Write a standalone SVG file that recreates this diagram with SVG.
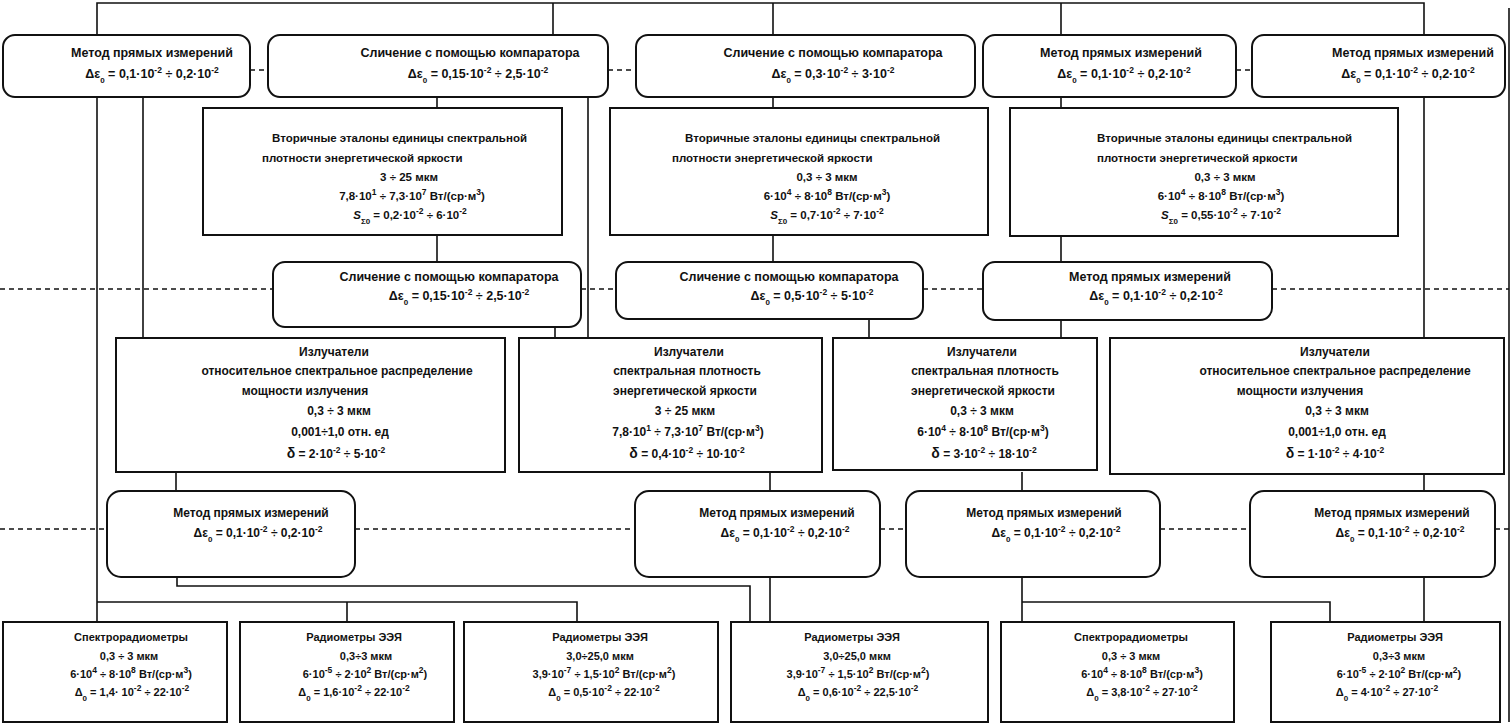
<svg xmlns="http://www.w3.org/2000/svg" width="1512" height="727" viewBox="0 0 1512 727">
<style>
.box{fill:#fff;stroke:#111;stroke-width:2}
.ln{fill:none;stroke:#111;stroke-width:1.6}
.dash{fill:none;stroke:#111;stroke-width:1.3;stroke-dasharray:5 4}
text{font-family:"Liberation Sans",Arial,sans-serif;font-weight:bold;fill:#111;text-anchor:middle}
.f1{font-size:12.5px}
.f2{font-size:11.5px}
.f4{font-size:12px}
.f6{font-size:11px}
.st{text-anchor:start}
.s{font-size:8.5px;baseline-shift:super}
.b{font-size:8px;baseline-shift:sub}
.d{font-size:14px}
.i{font-style:italic}
</style>
<rect width="1512" height="727" fill="#fff"/>
<g id="connectors">
<path class="ln" d="M97,35 V3 H1424 V35 M553,3 V35 M773,3 V35 M1061,3 V35"/>
<path class="ln" d="M97,97 V622 M97,602 H577 V622 M347,602 V622"/>
<path class="ln" d="M143,97 V338"/>
<path class="ln" d="M437,97 V108 M437,235 V262"/>
<path class="ln" d="M588,97 V338 M555,327 V338"/>
<path class="ln" d="M773,97 V108 M773,235 V262 M869,319 V338"/>
<path class="ln" d="M1061,97 V108 M1061,235 V262 M1061,320 V338"/>
<path class="ln" d="M1424,97 V338 M1424,472 V491 M1424,577 V622"/>
<path class="ln" d="M176,472 V491 M177,577 V586 H750 V622"/>
<path class="ln" d="M770,472 V491 M770,577 V622"/>
<path class="ln" d="M1022,472 V491 M1022,577 V622 M1022,602 H1330 V622"/>
<path class="ln" d="M1509,8 V722"/>
<path class="dash" d="M250,70 H268 M608,70 H636 M1236,70 H1252"/>
<path class="dash" d="M0,289 H273 M581,289 H616 M923,289 H983 M1272,289 H1509"/>
<path class="dash" d="M0,529 H107 M355,529 H635 M880,529 H906 M1160,529 H1250 M1495,529 H1509"/>
</g>

<g id="nodeA">
<rect class="box" x="3" y="35" width="247" height="62" rx="12"/>
<text class="f1" x="152" y="57">Метод прямых измерений</text>
<text class="f1" x="152" y="78">Δε<tspan class="b">0</tspan> = 0,1·10<tspan class="s">-2</tspan> ÷ 0,2·10<tspan class="s">-2</tspan></text>
</g>
<g id="nodeB">
<rect class="box" x="268" y="35" width="340" height="62" rx="12"/>
<text class="f1" x="470" y="57">Сличение с помощью компаратора</text>
<text class="f1" x="478" y="78">Δε<tspan class="b">0</tspan> = 0,15·10<tspan class="s">-2</tspan> ÷ 2,5·10<tspan class="s">-2</tspan></text>
</g>
<g id="nodeC">
<rect class="box" x="636" y="35" width="339" height="62" rx="12"/>
<text class="f1" x="833" y="57">Сличение с помощью компаратора</text>
<text class="f1" x="833" y="78">Δε<tspan class="b">0</tspan> = 0,3·10<tspan class="s">-2</tspan> ÷ 3·10<tspan class="s">-2</tspan></text>
</g>
<g id="nodeD">
<rect class="box" x="983" y="35" width="253" height="62" rx="12"/>
<text class="f1" x="1121" y="57">Метод прямых измерений</text>
<text class="f1" x="1124" y="78">Δε<tspan class="b">0</tspan> = 0,1·10<tspan class="s">-2</tspan> ÷ 0,2·10<tspan class="s">-2</tspan></text>
</g>
<g id="nodeE">
<rect class="box" x="1252" y="35" width="253" height="62" rx="12"/>
<text class="f1" x="1413" y="57">Метод прямых измерений</text>
<text class="f1" x="1408" y="78">Δε<tspan class="b">0</tspan> = 0,1·10<tspan class="s">-2</tspan> ÷ 0,2·10<tspan class="s">-2</tspan></text>
</g>

<g id="nodeV1">
<rect class="box" x="203" y="108" width="359" height="127"/>
<text class="f2 st" x="272" y="142">Вторичные эталоны единицы спектральной</text>
<text class="f2 st" x="262" y="162">плотности энергетической яркости</text>
<text class="f2" x="409" y="181">3 ÷ 25 мкм</text>
<text class="f2" x="412" y="200">7,8·10<tspan class="s">1</tspan> ÷ 7,3·10<tspan class="s">7</tspan>  Вт/(ср·м<tspan class="s">3</tspan>)</text>
<text class="f2" x="410" y="219"><tspan class="i">S</tspan><tspan class="b">Σ0</tspan> = 0,2·10<tspan class="s">-2</tspan> ÷ 6·10<tspan class="s">-2</tspan></text>
</g>
<g id="nodeV2">
<rect class="box" x="610" y="108" width="378" height="127"/>
<text class="f2 st" x="685" y="142">Вторичные эталоны единицы спектральной</text>
<text class="f2 st" x="672" y="162">плотности энергетической яркости</text>
<text class="f2" x="827" y="181">0,3 ÷ 3 мкм</text>
<text class="f2" x="827" y="200">6·10<tspan class="s">4</tspan> ÷ 8·10<tspan class="s">8</tspan> Вт/(ср·м<tspan class="s">3</tspan>)</text>
<text class="f2" x="827" y="219"><tspan class="i">S</tspan><tspan class="b">Σ0</tspan> = 0,7·10<tspan class="s">-2</tspan> ÷ 7·10<tspan class="s">-2</tspan></text>
</g>
<g id="nodeV3">
<rect class="box" x="1010" y="108" width="388" height="128"/>
<text class="f2 st" x="1097" y="142">Вторичные эталоны единицы спектральной</text>
<text class="f2 st" x="1097" y="162">плотности энергетической яркости</text>
<text class="f2" x="1225" y="181">0,3 ÷ 3 мкм</text>
<text class="f2" x="1221" y="200">6·10<tspan class="s">4</tspan> ÷ 8·10<tspan class="s">8</tspan>  Вт/(ср·м<tspan class="s">3</tspan>)</text>
<text class="f2" x="1221" y="219"><tspan class="i">S</tspan><tspan class="b">Σ0</tspan> = 0,55·10<tspan class="s">-2</tspan> ÷ 7·10<tspan class="s">-2</tspan></text>
</g>

<g id="nodeS1">
<rect class="box" x="273" y="262" width="308" height="65" rx="12"/>
<text class="f1" x="449" y="281">Сличение с помощью компаратора</text>
<text class="f1" x="459" y="300">Δε<tspan class="b">0</tspan> = 0,15·10<tspan class="s">-2</tspan> ÷ 2,5·10<tspan class="s">-2</tspan></text>
</g>
<g id="nodeS2">
<rect class="box" x="616" y="262" width="307" height="57" rx="12"/>
<text class="f1" x="789" y="281">Сличение с помощью компаратора</text>
<text class="f1" x="812" y="300">Δε<tspan class="b">0</tspan> = 0,5·10<tspan class="s">-2</tspan> ÷ 5·10<tspan class="s">-2</tspan></text>
</g>
<g id="nodeM3">
<rect class="box" x="983" y="262" width="289" height="58" rx="12"/>
<text class="f1" x="1150" y="281">Метод прямых измерений</text>
<text class="f1" x="1156" y="300">Δε<tspan class="b">0</tspan> = 0,1·10<tspan class="s">-2</tspan> ÷ 0,2·10<tspan class="s">-2</tspan></text>
</g>

<g id="nodeI1">
<rect class="box" x="116" y="338" width="389" height="134"/>
<text class="f4" x="334" y="356">Излучатели</text>
<text class="f4" x="337" y="375">относительное спектральное распределение</text>
<text class="f4" x="305" y="395">мощности излучения</text>
<text class="f4" x="339" y="415">0,3 ÷ 3 мкм</text>
<text class="f4" x="340" y="436">0,001÷1,0 отн. ед</text>
<text class="f4" x="336" y="458"><tspan class="d">δ</tspan> = 2·10<tspan class="s">-2</tspan> ÷ 5·10<tspan class="s">-2</tspan></text>
</g>
<g id="nodeI2">
<rect class="box" x="519" y="338" width="303" height="134"/>
<text class="f4" x="689" y="356">Излучатели</text>
<text class="f4" x="687" y="375">спектральная  плотность</text>
<text class="f4" x="685" y="395">энергетической яркости</text>
<text class="f4" x="685" y="415">3 ÷ 25 мкм</text>
<text class="f4" x="688" y="436">7,8·10<tspan class="s">1</tspan> ÷ 7,3·10<tspan class="s">7</tspan>  Вт/(ср·м<tspan class="s">3</tspan>)</text>
<text class="f4" x="687" y="458"><tspan class="d">δ</tspan> = 0,4·10<tspan class="s">-2</tspan> ÷ 10·10<tspan class="s">-2</tspan></text>
</g>
<g id="nodeI3">
<rect class="box" x="833" y="338" width="264" height="132"/>
<text class="f4" x="982" y="356">Излучатели</text>
<text class="f4" x="985" y="375">спектральная  плотность</text>
<text class="f4" x="983" y="395">энергетической яркости</text>
<text class="f4" x="982" y="415">0,3 ÷ 3 мкм</text>
<text class="f4" x="983" y="436">6·10<tspan class="s">4</tspan> ÷ 8·10<tspan class="s">8</tspan>  Вт/(ср·м<tspan class="s">3</tspan>)</text>
<text class="f4" x="984" y="458"><tspan class="d">δ</tspan> = 3·10<tspan class="s">-2</tspan> ÷ 18·10<tspan class="s">-2</tspan></text>
</g>
<g id="nodeI4">
<rect class="box" x="1110" y="338" width="394" height="136"/>
<text class="f4" x="1335" y="356">Излучатели</text>
<text class="f4" x="1335" y="375">относительное спектральное распределение</text>
<text class="f4" x="1300" y="395">мощности излучения</text>
<text class="f4" x="1337" y="415">0,3 ÷ 3 мкм</text>
<text class="f4" x="1337" y="436">0,001÷1,0 отн. ед</text>
<text class="f4" x="1335" y="458"><tspan class="d">δ</tspan> = 1·10<tspan class="s">-2</tspan> ÷ 4·10<tspan class="s">-2</tspan></text>
</g>

<g id="nodeM5a">
<rect class="box" x="107" y="491" width="248" height="86" rx="14"/>
<text class="f4" x="251" y="517">Метод прямых измерений</text>
<text class="f4" x="258" y="537">Δε<tspan class="b">0</tspan> = 0,1·10<tspan class="s">-2</tspan> ÷ 0,2·10<tspan class="s">-2</tspan></text>
</g>
<g id="nodeM5b">
<rect class="box" x="635" y="491" width="245" height="86" rx="14"/>
<text class="f4" x="777" y="517">Метод прямых измерений</text>
<text class="f4" x="785" y="537">Δε<tspan class="b">0</tspan> = 0,1·10<tspan class="s">-2</tspan> ÷ 0,2·10<tspan class="s">-2</tspan></text>
</g>
<g id="nodeM5c">
<rect class="box" x="906" y="491" width="254" height="86" rx="14"/>
<text class="f4" x="1044" y="517">Метод прямых измерений</text>
<text class="f4" x="1056" y="537">Δε<tspan class="b">0</tspan> = 0,1·10<tspan class="s">-2</tspan> ÷ 0,2·10<tspan class="s">-2</tspan></text>
</g>
<g id="nodeM5d">
<rect class="box" x="1250" y="491" width="245" height="86" rx="14"/>
<text class="f4" x="1392" y="517">Метод прямых измерений</text>
<text class="f4" x="1400" y="537">Δε<tspan class="b">0</tspan> = 0,1·10<tspan class="s">-2</tspan> ÷ 0,2·10<tspan class="s">-2</tspan></text>
</g>

<g id="nodeR1">
<rect class="box" x="3" y="622" width="224" height="100"/>
<text class="f6" x="131" y="641">Спектрорадиометры</text>
<text class="f6" x="129" y="660">0,3 ÷ 3 мкм</text>
<text class="f6" x="131" y="678">6·10<tspan class="s">4</tspan> ÷ 8·10<tspan class="s">8</tspan>  Вт/(ср·м<tspan class="s">3</tspan>)</text>
<text class="f6" x="132" y="696">Δ<tspan class="b">0</tspan> = 1,4· 10<tspan class="s">-2</tspan> ÷ 22·10<tspan class="s">-2</tspan></text>
</g>
<g id="nodeR2">
<rect class="box" x="240" y="622" width="214" height="100"/>
<text class="f6" x="354" y="641">Радиометры ЭЭЯ</text>
<text class="f6" x="366" y="660">0,3÷3 мкм</text>
<text class="f6" x="365" y="678">6·10<tspan class="s">-5</tspan> ÷ 2·10<tspan class="s">2</tspan>  Вт/(ср·м<tspan class="s">2</tspan>)</text>
<text class="f6" x="354" y="696">Δ<tspan class="b">0</tspan> = 1,6·10<tspan class="s">-2</tspan> ÷ 22·10<tspan class="s">-2</tspan></text>
</g>
<g id="nodeR3">
<rect class="box" x="464" y="622" width="254" height="100"/>
<text class="f6" x="600" y="641">Радиометры ЭЭЯ</text>
<text class="f6" x="600" y="660">3,0÷25,0 мкм</text>
<text class="f6" x="604" y="678">3,9·10<tspan class="s">-7</tspan> ÷ 1,5·10<tspan class="s">2</tspan>  Вт/(ср·м<tspan class="s">2</tspan>)</text>
<text class="f6" x="604" y="696">Δ<tspan class="b">0</tspan> = 0,5·10<tspan class="s">-2</tspan> ÷ 22·10<tspan class="s">-2</tspan></text>
</g>
<g id="nodeR4">
<rect class="box" x="731" y="622" width="257" height="100"/>
<text class="f6" x="852" y="641">Радиометры ЭЭЯ</text>
<text class="f6" x="857" y="660">3,0÷25,0 мкм</text>
<text class="f6" x="858" y="678">3,9·10<tspan class="s">-7</tspan> ÷ 1,5·10<tspan class="s">2</tspan>  Вт/(ср·м<tspan class="s">2</tspan>)</text>
<text class="f6" x="858" y="696">Δ<tspan class="b">0</tspan> = 0,6·10<tspan class="s">-2</tspan> ÷ 22,5·10<tspan class="s">-2</tspan></text>
</g>
<g id="nodeR5">
<rect class="box" x="1001" y="622" width="233" height="100"/>
<text class="f6" x="1131" y="641">Спектрорадиометры</text>
<text class="f6" x="1131" y="660">0,3 ÷ 3 мкм</text>
<text class="f6" x="1142" y="678">6·10<tspan class="s">4</tspan> ÷ 8·10<tspan class="s">8</tspan>  Вт/(ср·м<tspan class="s">3</tspan>)</text>
<text class="f6" x="1142" y="696">Δ<tspan class="b">0</tspan> = 3,8·10<tspan class="s">-2</tspan> ÷ 27·10<tspan class="s">-2</tspan></text>
</g>
<g id="nodeR6">
<rect class="box" x="1271" y="622" width="229" height="100"/>
<text class="f6" x="1395" y="641">Радиометры ЭЭЯ</text>
<text class="f6" x="1399" y="660">0,3÷3 мкм</text>
<text class="f6" x="1399" y="678">6·10<tspan class="s">-5</tspan> ÷ 2·10<tspan class="s">2</tspan>  Вт/(ср·м<tspan class="s">2</tspan>)</text>
<text class="f6" x="1387" y="696">Δ<tspan class="b">0</tspan> = 4·10<tspan class="s">-2</tspan> ÷ 27·10<tspan class="s">-2</tspan></text>
</g>
</svg>
